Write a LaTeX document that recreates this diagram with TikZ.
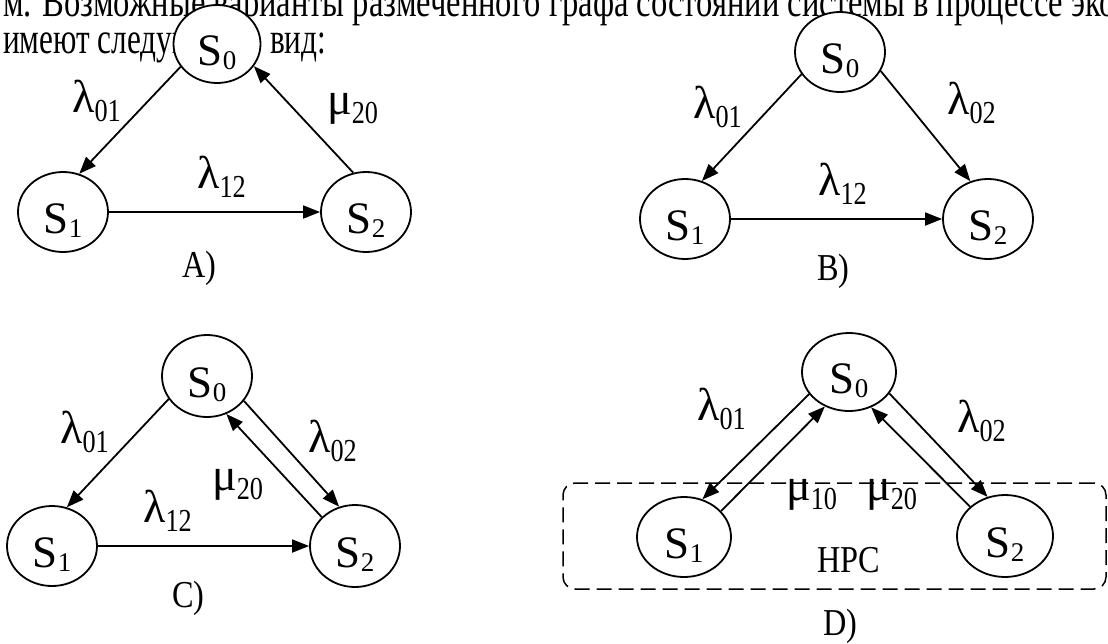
\documentclass[tikz,border=0pt]{standalone}
\usepackage{fontspec}
\setmainfont{Liberation Serif}
\newfontfamily\bodyfont[FakeStretch=0.74]{Liberation Serif}
\newfontfamily\bodyfontb[FakeStretch=0.71]{Liberation Serif}
\newfontfamily\capfont[FakeStretch=0.85]{Liberation Serif}
\newfontfamily\subfont[FakeStretch=0.82]{Liberation Serif}
\usetikzlibrary{shapes.geometric,arrows.meta}
\newcommand{\stt}[1]{{\fontsize{45}{45}\selectfont S}\raisebox{-4pt}{\fontsize{27}{27}\selectfont #1}}
\newcommand{\glab}[2]{{\fontsize{46}{46}\selectfont #1}\raisebox{-9pt}{\subfont\fontsize{32}{32}\selectfont #2}}
\begin{document}
\begin{tikzpicture}[x=1pt,y=-1pt,
  st/.style={ellipse, draw, line width=1.8pt, fill=white, inner sep=0pt,
    minimum width=90pt, minimum height=80pt, text height=42pt, text depth=0pt},
  arr/.style={line width=1.8pt, -{Triangle[length=17pt,width=13pt]}},
  lab/.style={anchor=base west, inner sep=0pt},
  caplab/.style={anchor=base west, inner sep=0pt, font=\capfont\fontsize{38}{38}\selectfont},
  body/.style={anchor=base west, inner sep=0pt, font=\bodyfont\fontsize{44}{44}\selectfont},
  bodyb/.style={anchor=base west, inner sep=0pt, font=\bodyfontb\fontsize{44}{44}\selectfont}]
\useasboundingbox (0,0) rectangle (1108,643);
\fill[white] (0,0) rectangle (1108,643);
% text lines
\node[body] (line1) at (3,16) {м. Возможные варианты размеченного графа состояний системы в процессе эко};
\node[bodyb] (line2) at (3,53) {имеют следующий};
\node[bodyb] (line2b) at (270,53) {вид:};
% ---------- A ----------
\node[st, minimum width=87pt, minimum height=78pt] (a0) at (217,44) {\stt0};
\node[st] (a1) at (63,212) {\stt1};
\node[st] (a2) at (366,212) {\stt2};
\draw[arr] (a0.212) -- (a1.67);
\draw[arr] (a2.108) -- (a0.329);
\draw[arr] (a1.east) -- (a2.west);
\node[lab] (la01) at (72,112) {\glab{λ}{01}};
\node[lab] (la20) at (327,114) {\glab{μ}{20}};
\node[lab] (la12) at (197,188) {\glab{λ}{12}};
\node[caplab] (capA) at (182,277) {A)};
% ---------- B ----------
\node[st] (b0) at (840,52) {\stt0};
\node[st] (b1) at (685,219) {\stt1};
\node[st] (b2) at (988,219) {\stt2};
\draw[arr] (b0.210) -- (b1.66);
\draw[arr] (b0.335) -- (b2.115);
\draw[arr] (b1.east) -- (b2.west);
\node[lab] (lb01) at (693,118) {\glab{λ}{01}};
\node[lab] (lb02) at (947,114) {\glab{λ}{02}};
\node[lab] (lb12) at (818,195) {\glab{λ}{12}};
\node[caplab] (capB) at (817,280) {B)};
% ---------- C ----------
\node[st, minimum height=82pt] (c0) at (207,376) {\stt0};
\node[st] (c1) at (52,546) {\stt1};
\node[st, minimum height=82pt] (c2) at (355,546) {\stt2};
\draw[arr] (c0.211) -- (c1.69);
\draw[arr] (c0.326) -- (c2.112);
\draw[arr] (c2.139) -- (c0.297);
\draw[arr] (c1.east) -- (c2.west);
\node[lab] (lc01) at (60,443) {\glab{λ}{01}};
\node[lab] (lc02) at (308,452) {\glab{λ}{02}};
\node[lab] (lc20) at (212,490) {\glab{μ}{20}};
\node[lab] (lc12) at (143,522) {\glab{λ}{12}};
\node[caplab] (capC) at (172,607) {C)};
% ---------- D ----------
\node[draw, dashed, dash pattern=on 15pt off 7pt, line width=1.5pt, rounded corners=12pt,
  minimum width=543pt, minimum height=106pt, inner sep=0pt] (hpcbox) at (834.5,536) {};
\node[st, minimum width=94pt, minimum height=78pt] (d0) at (849,372) {\stt0};
\node[st, minimum width=94pt] (d1) at (684,537) {\stt1};
\node[st, minimum width=96pt, minimum height=82pt] (d2) at (1005,536) {\stt2};
\draw[arr] (d0.209) -- (d1.64);
\draw[arr] (d1.35) -- (d0.235);
\draw[arr] (d2.140) -- (d0.302);
\draw[arr] (d0.332) -- (d2.114);
\node[lab] (ld01) at (697,420) {\glab{λ}{01}};
\node[lab] (ld02) at (957,432) {\glab{λ}{02}};
\node[lab] (ld10) at (786,500) {\glab{μ}{10}};
\node[lab] (ld20) at (866,500) {\glab{μ}{20}};
\node[anchor=base west, inner sep=0pt, font=\capfont\fontsize{38}{38}\selectfont] (hpc) at (817,572) {HPC};
\node[caplab] (capD) at (823,635) {D)};
\end{tikzpicture}
\end{document}
